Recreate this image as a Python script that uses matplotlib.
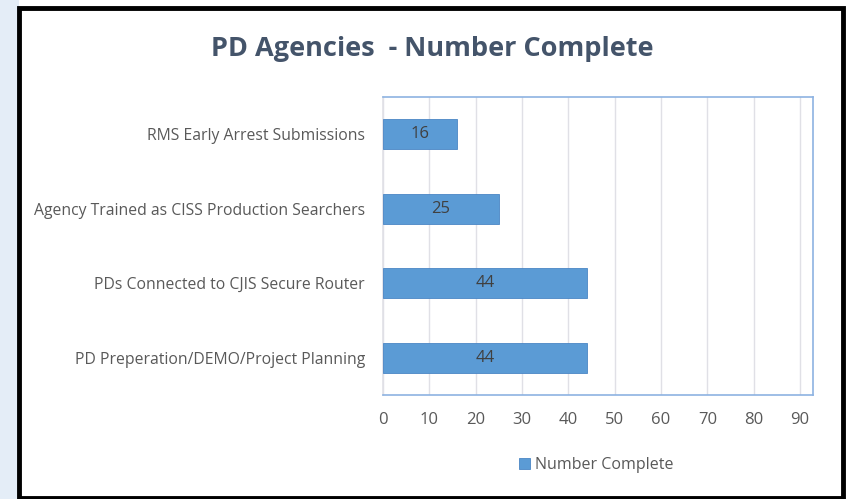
import matplotlib.pyplot as plt
from matplotlib.patches import Rectangle

categorias = ["PD Preperation/DEMO/Project Planning",
              "PDs Connected to CJIS Secure Router",
              "Agency Trained as CISS Production Searchers",
              "RMS Early Arrest Submissions"]
valores = [44, 44, 25, 16]
ticks_x = [0, 10, 20, 30, 40, 50, 60, 70, 80, 90]

plt.rcParams['font.family'] = ['Open Sans', 'DejaVu Sans']

W, H = 846, 499
fig = plt.figure(figsize=(W / 100, H / 100), dpi=100)

# faixa azul clara a esquerda e moldura preta
fig.patches.append(Rectangle((0, 0), 19 / W, 1, transform=fig.transFigure,
                             facecolor="#E4EDF7", edgecolor="none", zorder=0))
fig.patches.append(Rectangle((19 / W, 1.5 / H), (843 - 19) / W, (491 - 1.5) / H,
                             transform=fig.transFigure, facecolor="white",
                             edgecolor="black", linewidth=3.5, zorder=1))

ax = fig.add_axes([383 / W, 1 - 395 / H, (813 - 383) / W, (395 - 97) / H])
ax.set_zorder(2)

barras = ax.barh(range(len(valores)), valores, height=0.4, color="#5B9BD5",
                 edgecolor="#4A86C5", linewidth=0.6, zorder=3)
for i, v in enumerate(valores):
    ax.text(v / 2, i, str(v), ha="center", va="center", fontsize=12,
            color="#404040", zorder=4)

ax.set_xlim(0, 92.8)
ax.set_ylim(-0.5, 3.5)
ax.set_xticks(ticks_x)
ax.set_yticks(range(len(categorias)))
ax.set_yticklabels(categorias)
ax.tick_params(axis="x", length=0, colors="#595959", labelsize=12, pad=12)
ax.tick_params(axis="y", length=0, colors="#595959", labelsize=11.3, pad=13)
ax.grid(axis="x", color="#E0E0E6", linewidth=1, zorder=0)
for s in ax.spines.values():
    s.set_color("#8DB3E2")
    s.set_linewidth(1.2)
ax.spines["left"].set_color("#E0E0E6")

fig.text(432 / W, 1 - 49 / H, "PD Agencies  - Number Complete", ha="center",
         va="center", fontsize=19.5, fontweight="bold", color="#44546A")

leg = ax.legend([barras], ["Number Complete"], loc="center",
                bbox_to_anchor=(596 / W, 1 - 465 / H), bbox_transform=fig.transFigure,
                frameon=False, fontsize=11.5, handlelength=0.7, handleheight=0.7,
                handletextpad=0.3)
for t in leg.get_texts():
    t.set_color("#595959")

fig.savefig("out.png", dpi=100)
